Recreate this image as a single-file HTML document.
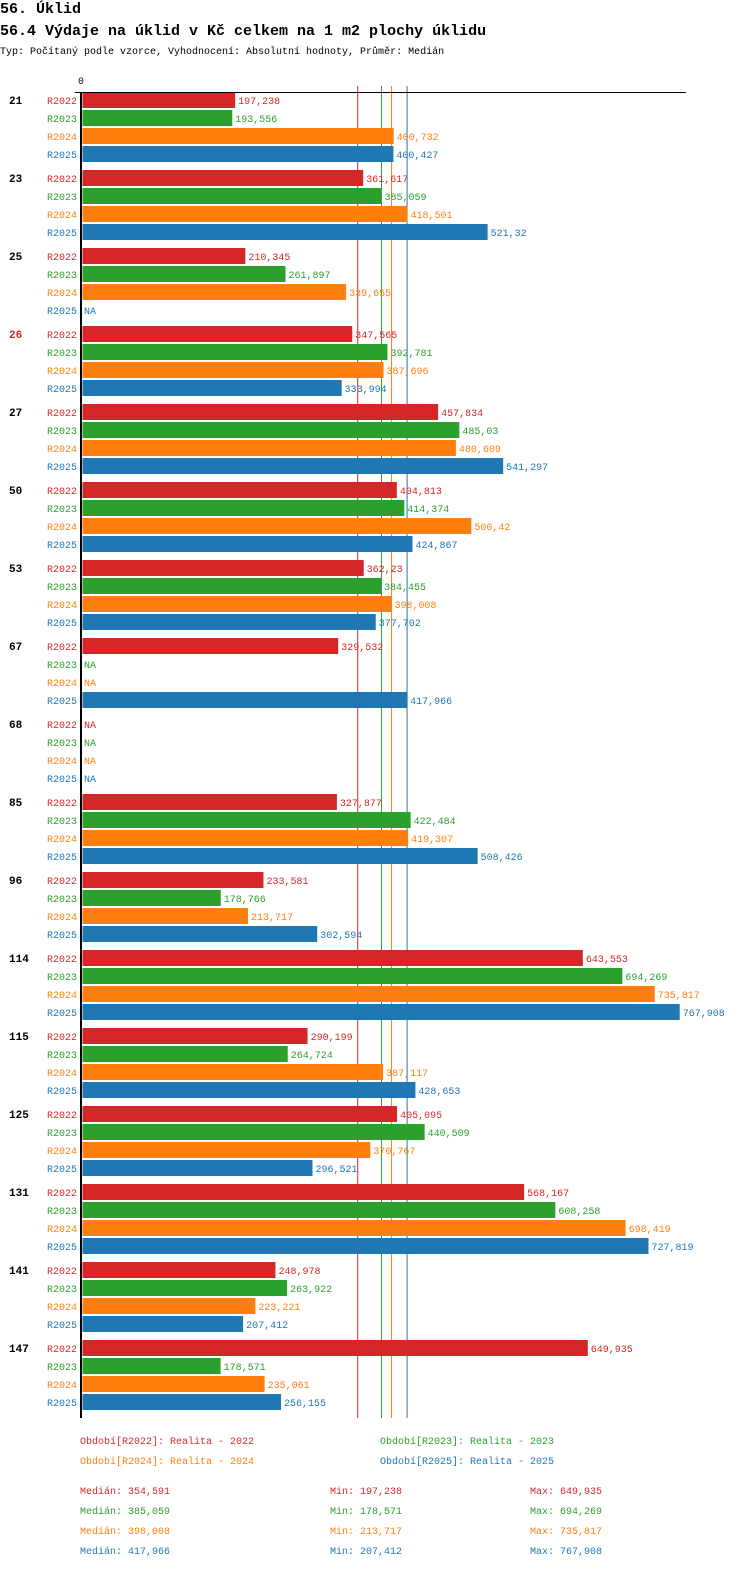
<!DOCTYPE html>
<html><head><meta charset="utf-8"><style>
body{margin:0;background:#fff;width:750px;height:1568px;overflow:hidden}
svg{font-family:"Liberation Mono",monospace}
</style></head><body>
<svg id="c" width="750" height="1568">
<text x="0" y="13" font-size="15" font-weight="bold">56. Úklid</text>
<text x="0" y="35" font-size="15" font-weight="bold">56.4 Výdaje na úklid v Kč celkem na 1 m2 plochy úklidu</text>
<text x="0" y="54" font-size="10">Typ: Počítaný podle vzorce, Vyhodnocení: Absolutní hodnoty, Průměr: Medián</text>
</svg>
<script>
const categories=["21","23","25","26","27","50","53","67","68","85","96","114","115","125","131","141","147"];
const seriesNames=["R2022","R2023","R2024","R2025"];
const r2022=[197.238,361.617,210.345,347.565,457.834,404.813,362.23,329.532,null,327.877,233.581,643.553,290.199,405.095,568.167,248.978,649.935];
const r2023=[193.556,385.059,261.897,392.781,485.03,414.374,384.455,null,null,422.484,178.766,694.269,264.724,440.509,608.258,263.922,178.571];
const r2024=[400.732,418.501,339.655,387.696,480.609,500.42,398.008,null,null,419.307,213.717,735.817,387.117,370.767,698.419,223.221,235.061];
const r2025=[400.427,521.32,null,333.994,541.297,424.867,377.702,417.966,null,508.426,302.594,767.908,428.653,296.521,727.819,207.412,256.155];
const medians=[354.591,385.059,398.008,417.966];
const mins=[197.238,178.571,213.717,207.412];
const maxs=[649.935,694.269,735.817,767.908];
const highlight="26";
const colors=["#d62728","#2ca02c","#ff7f0e","#1f77b4"];
const NS="http://www.w3.org/2000/svg";
const svg=document.getElementById('c');
const x0=81.5,k=0.779;
const xs=v=>x0+v*k;
const top0=92,grp=78,row=18;
function mk(t,a,txt){const e=document.createElementNS(NS,t);for(const n in a)e.setAttribute(n,a[n]);if(txt!=null)e.textContent=txt;svg.appendChild(e);return e;}
const fmt=v=>String(v).replace('.',',');
const data=[r2022,r2023,r2024,r2025];
let e;
e=mk('text',{x:78,y:84,'font-size':10},'0');


medians.forEach((m,i)=>{
  e=mk('line',{x1:xs(m),x2:xs(m),y1:86,y2:1418,stroke:colors[i],'stroke-width':1});
  
  
});
categories.forEach((c,gi)=>{
  const gy=top0+gi*grp;
  e=mk('text',{x:9,y:gy+12,'font-size':11,'font-weight':'bold',fill:c===highlight?'#d62728':'#000'},c);
  
  
  data.forEach((s,si)=>{
    const y=gy+si*row;
    e=mk('text',{x:47,y:y+12,'font-size':10,fill:colors[si]},seriesNames[si]);
    
    
    const v=s[gi];
    if(v==null){
      e=mk('text',{x:84,y:y+12,'font-size':10,fill:colors[si]},'NA');
      
      
    }else{
      e=mk('rect',{x:x0+1,y:y,width:xs(v)-x0-1,height:16,fill:colors[si]});
      
      
      e=mk('text',{x:xs(v)+3,y:y+12,'font-size':10,fill:colors[si]},fmt(v));
      
      
    }
  });
});
e=mk('line',{x1:75,x2:686,y1:92.5,y2:92.5,stroke:'#000','stroke-width':1});


e=mk('line',{x1:81,x2:81,y1:92,y2:1418,stroke:'#000','stroke-width':2});


const legendNames=["Realita - 2022","Realita - 2023","Realita - 2024","Realita - 2025"];
legendNames.forEach((n,i)=>{
  e=mk('text',{x:i%2?380:80,y:1444+Math.floor(i/2)*20,'font-size':10,fill:colors[i]},'Období['+seriesNames[i]+']: '+n);
  
  
});
for(let i=0;i<4;i++){
  const y=1494+i*20;
  e=mk('text',{x:80,y:y,'font-size':10,fill:colors[i]},'Medián: '+fmt(medians[i]));
  
  
  e=mk('text',{x:330,y:y,'font-size':10,fill:colors[i]},'Min: '+fmt(mins[i]));
  
  
  e=mk('text',{x:530,y:y,'font-size':10,fill:colors[i]},'Max: '+fmt(maxs[i]));
  
  
}
</script>
</body></html>
